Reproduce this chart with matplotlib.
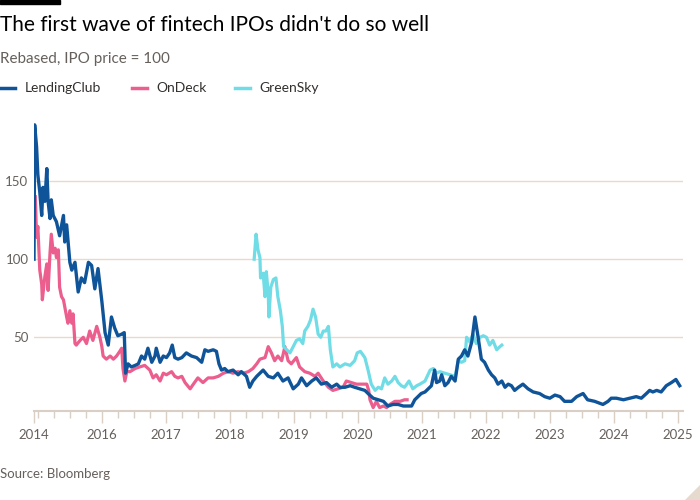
import matplotlib
matplotlib.use('Agg')
import matplotlib.pyplot as plt
from matplotlib.patches import Rectangle, Polygon

# dates as decimal years, values rebased to IPO price = 100
lc_t = [2014.94, 2014.95, 2014.98, 2015.00, 2015.03, 2015.06, 2015.08, 2015.11, 2015.14, 2015.16,
        2015.19, 2015.21, 2015.24, 2015.29, 2015.34, 2015.40, 2015.42, 2015.45, 2015.50, 2015.53,
        2015.58, 2015.63, 2015.68, 2015.73, 2015.79, 2015.84, 2015.89, 2015.94, 2016.00, 2016.05,
        2016.10, 2016.15, 2016.20, 2016.25, 2016.31, 2016.35, 2016.37, 2016.41, 2016.46, 2016.52,
        2016.57, 2016.62, 2016.67, 2016.72, 2016.78, 2016.83, 2016.85, 2016.91, 2016.96, 2017.01,
        2017.06, 2017.10, 2017.14, 2017.19, 2017.25, 2017.32, 2017.40, 2017.48, 2017.56, 2017.61,
        2017.66, 2017.74, 2017.79, 2017.83, 2017.87, 2017.92, 2017.97, 2018.05, 2018.13, 2018.18,
        2018.26, 2018.31, 2018.36, 2018.42, 2018.47, 2018.52, 2018.60, 2018.68, 2018.75, 2018.83,
        2018.91, 2018.99, 2019.07, 2019.12, 2019.20, 2019.28, 2019.35, 2019.43, 2019.51, 2019.59,
        2019.67, 2019.72, 2019.80, 2019.88, 2019.95, 2020.03, 2020.11, 2020.16, 2020.24, 2020.32,
        2020.40, 2020.47, 2020.55, 2020.63, 2020.71, 2020.78, 2020.84, 2020.89, 2020.94, 2020.99,
        2021.05, 2021.10, 2021.15, 2021.20, 2021.23, 2021.28, 2021.31, 2021.36, 2021.41, 2021.46,
        2021.52, 2021.57, 2021.62, 2021.67, 2021.72, 2021.78, 2021.83, 2021.88, 2021.93, 2021.98,
        2022.04, 2022.09, 2022.14, 2022.19, 2022.25, 2022.30, 2022.35, 2022.40, 2022.45, 2022.51,
        2022.58, 2022.66, 2022.74, 2022.84, 2022.92, 2023.00, 2023.08, 2023.16, 2023.23, 2023.34,
        2023.42, 2023.52, 2023.59, 2023.70, 2023.83, 2023.91, 2023.96, 2024.04, 2024.15, 2024.25,
        2024.35, 2024.43, 2024.51, 2024.56, 2024.61, 2024.67, 2024.74, 2024.82, 2024.90, 2024.97,
        2025.00, 2025.03]
lc_v = [100, 186, 172, 154, 143, 128, 146, 137, 158, 137,
        126, 138, 128, 124, 115, 128, 111, 122, 98, 93,
        98, 79, 88, 85, 98, 96, 81, 94, 73, 53,
        45, 63, 56, 51, 52, 53, 27, 33, 31, 32,
        33, 38, 36, 43, 34, 38, 43, 34, 38, 37,
        40, 45, 37, 36, 37, 40, 38, 37, 34, 42,
        41, 42, 41, 33, 29, 30, 28, 29, 26, 28,
        25, 18, 22, 25, 27, 29, 25, 24, 27, 22,
        24, 17, 20, 24, 19, 22, 24, 20, 21, 18,
        20, 18, 18, 19, 18, 17, 16, 14, 11, 10,
        9, 6, 7, 7, 6, 6, 6, 10, 12, 14,
        15, 17, 19, 29, 21, 22, 26, 19, 21, 25,
        22, 36, 38, 42, 38, 47, 63, 50, 36, 34,
        29, 26, 24, 20, 22, 18, 20, 19, 16, 18,
        20, 17, 15, 14, 12, 11, 13, 12, 9, 9,
        12, 14, 10, 9, 7, 9, 11, 11, 10, 11,
        12, 11, 14, 16, 15, 16, 15, 19, 21, 23,
        21, 19]

od_t = [2014.96, 2014.98, 2015.00, 2015.03, 2015.06, 2015.07, 2015.11, 2015.14, 2015.16, 2015.19,
        2015.21, 2015.24, 2015.27, 2015.29, 2015.32, 2015.34, 2015.37, 2015.40, 2015.45, 2015.47,
        2015.50, 2015.53, 2015.55, 2015.58, 2015.60, 2015.66, 2015.71, 2015.76, 2015.81, 2015.86,
        2015.92, 2015.97, 2016.00, 2016.02, 2016.07, 2016.13, 2016.18, 2016.23, 2016.28, 2016.31,
        2016.33, 2016.36, 2016.39, 2016.44, 2016.52, 2016.59, 2016.67, 2016.75, 2016.80, 2016.85,
        2016.91, 2016.96, 2017.01, 2017.09, 2017.14, 2017.19, 2017.25, 2017.30, 2017.38, 2017.43,
        2017.50, 2017.58, 2017.66, 2017.74, 2017.82, 2017.90, 2017.97, 2018.05, 2018.13, 2018.21,
        2018.29, 2018.36, 2018.42, 2018.47, 2018.55, 2018.60, 2018.65, 2018.70, 2018.75, 2018.81,
        2018.86, 2018.91, 2018.96, 2019.04, 2019.09, 2019.17, 2019.25, 2019.33, 2019.38, 2019.46,
        2019.54, 2019.61, 2019.69, 2019.77, 2019.82, 2019.90, 2019.98, 2020.06, 2020.14, 2020.17,
        2020.19, 2020.24, 2020.29, 2020.34, 2020.40, 2020.45, 2020.50, 2020.58, 2020.66, 2020.73,
        2020.77]
od_v = [140, 114, 121, 93, 84, 74, 89, 97, 80, 104,
        116, 104, 107, 101, 106, 82, 76, 74, 63, 59,
        67, 59, 65, 46, 45, 48, 50, 46, 54, 48,
        57, 50, 44, 38, 36, 38, 36, 38, 41, 43,
        30, 22, 28, 28, 30, 31, 32, 29, 24, 26,
        22, 27, 26, 28, 25, 24, 25, 21, 17, 20,
        24, 21, 24, 24, 25, 27, 28, 27, 28, 27,
        28, 30, 33, 36, 37, 44, 40, 35, 38, 35,
        44, 35, 33, 37, 31, 28, 27, 25, 27, 22,
        18, 16, 17, 18, 22, 21, 20, 20, 20, 16,
        10, 5, 9, 5, 6, 5, 7, 9, 9, 10,
        10]

gs_t = [2018.38, 2018.41, 2018.44, 2018.47, 2018.48, 2018.52, 2018.55, 2018.57, 2018.60, 2018.61,
        2018.64, 2018.68, 2018.72, 2018.75, 2018.79, 2018.82, 2018.84, 2018.89, 2018.94, 2018.99,
        2019.04, 2019.09, 2019.14, 2019.17, 2019.22, 2019.26, 2019.30, 2019.34, 2019.38, 2019.42,
        2019.46, 2019.50, 2019.54, 2019.57, 2019.61, 2019.67, 2019.72, 2019.80, 2019.88, 2019.95,
        2019.99, 2020.04, 2020.11, 2020.16, 2020.21, 2020.27, 2020.32, 2020.37, 2020.42, 2020.47,
        2020.53, 2020.58, 2020.63, 2020.68, 2020.73, 2020.80, 2020.86, 2020.92, 2020.97, 2021.05,
        2021.13, 2021.18, 2021.23, 2021.28, 2021.36, 2021.44, 2021.52, 2021.57, 2021.62, 2021.67,
        2021.70, 2021.75, 2021.80, 2021.85, 2021.91, 2021.96, 2022.01, 2022.06, 2022.11, 2022.17,
        2022.22, 2022.25]
gs_v = [100, 116, 106, 101, 88, 91, 76, 92, 78, 63,
        82, 87, 88, 76, 67, 57, 44, 42, 40, 44,
        48, 49, 46, 54, 57, 61, 68, 63, 52, 50,
        54, 54, 57, 42, 31, 33, 31, 33, 32, 35,
        40, 41, 37, 29, 20, 16, 18, 17, 24, 20,
        22, 25, 21, 19, 18, 22, 17, 19, 20, 22,
        29, 30, 27, 28, 27, 26, 25, 35, 34, 35,
        50, 47, 52, 46, 50, 51, 50, 45, 48, 42,
        44, 45]

year_ticks = [2014.94] + list(range(2016, 2026))
year_labels = ['2014'] + [str(y) for y in range(2016, 2026)]

c_lc = '#0f5499'
c_od = '#eb5e8d'
c_gs = '#70dce6'
grey = '#66605c'
grid_c = '#e6d9ce'

plt.rcParams['font.family'] = ['Lato', 'DejaVu Sans']

fig = plt.figure(figsize=(7, 5), dpi=100)
fig.patch.set_facecolor('white')
ax = fig.add_axes([0.0486, 0.1786, 0.927, 0.5842])

ax.plot(od_t, od_v, color=c_od, lw=2.3, solid_joinstyle='round')
ax.plot(gs_t, gs_v, color=c_gs, lw=2.3, solid_joinstyle='round')
ax.plot(lc_t, lc_v, color=c_lc, lw=2.4, solid_joinstyle='round')

ax.set_xlim(2014.94, 2025.08)
ax.set_ylim(3, 190)
ax.set_yticks([50, 100, 150])
ax.yaxis.grid(True, color=grid_c, lw=1)
ax.set_axisbelow(True)
ax.tick_params(axis='y', length=0, pad=4, labelsize=9.5, labelcolor=grey)

ax.set_xticks(year_ticks)
ax.set_xticklabels(year_labels)
minor = [2015.0] + [y + q for y in range(2015, 2025) for q in (0.25, 0.5, 0.75)]
ax.set_xticks(minor, minor=True)
ax.tick_params(axis='x', which='major', length=8.5, width=1, color='#d9cfc5',
               pad=5, labelsize=9.5, labelcolor=grey)
ax.tick_params(axis='x', which='minor', length=5, width=1, color='#d9cfc5')

for s in ['top', 'right', 'left']:
    ax.spines[s].set_visible(False)
ax.spines['bottom'].set_color('#d9cfc5')
ax.spines['bottom'].set_linewidth(1.5)

# header
fig.add_artist(Rectangle((0, 0.992), 0.0857, 0.008, color='black', transform=fig.transFigure))
fig.text(0.0, 0.95, "The first wave of fintech IPOs didn't do so well", fontsize=15,
         color='#000000', va='center', ha='left')
fig.text(0.0, 0.883, 'Rebased, IPO price = 100', fontsize=11, color=grey, va='center')

leg = [('LendingClub', c_lc, 0.0), ('OnDeck', c_od, 0.1886), ('GreenSky', c_gs, 0.336)]
for name, col, x0 in leg:
    fig.add_artist(plt.Line2D([x0, x0 + 0.0214], [0.824, 0.824], color=col, lw=2.5,
                              transform=fig.transFigure))
    fig.text(x0 + 0.035, 0.824, name, fontsize=10, color='#33302e', va='center')

fig.text(0.0, 0.052, 'Source: Bloomberg', fontsize=9.5, color=grey, va='center')

fig.add_artist(Polygon([(685 / 700, 0), (1, 0), (1, 15 / 500)], closed=True,
                       color='#e6d9ce', transform=fig.transFigure))

fig.savefig('out.png', dpi=100, facecolor='white')
